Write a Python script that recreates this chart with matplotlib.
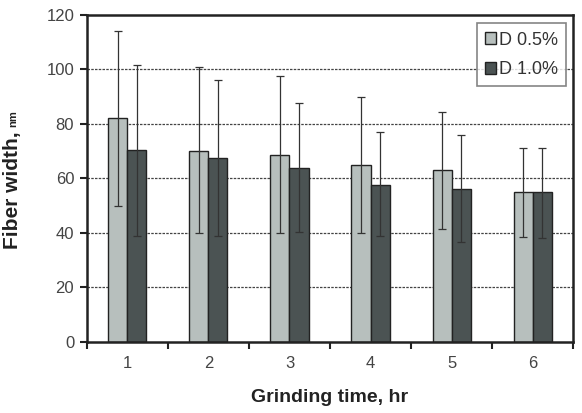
import matplotlib
matplotlib.use("Agg")
import matplotlib.pyplot as plt
import numpy as np

plt.rcParams['font.family'] = ['Liberation Sans', 'DejaVu Sans']

categories = ["1", "2", "3", "4", "5", "6"]
series_names = ["D 0.5%", "D 1.0%"]
d05 = [82, 70, 68.5, 65, 63, 55]
d10 = [70.5, 67.5, 64, 57.5, 56, 55]
d05_top = [114, 101, 97.5, 90, 84.5, 71]
d05_bot = [50, 40, 40, 40, 41.5, 38.5]
d10_top = [101.5, 96, 87.5, 77, 76, 71]
d10_bot = [39, 39, 40.5, 39, 36.5, 38]
yticks = [0, 20, 40, 60, 80, 100, 120]

fig = plt.figure(figsize=(5.82, 4.13), dpi=100)
ax = fig.add_axes([0.149, 0.172, 0.836, 0.792])

x = np.arange(1, len(categories) + 1)
w = 0.235
c_light = "#b7bfbd"
c_dark = "#4b5353"
ecol = "#333333"

for vals, top, bot, off, col, name in [
    (d05, d05_top, d05_bot, -w / 2, c_light, series_names[0]),
    (d10, d10_top, d10_bot, w / 2, c_dark, series_names[1]),
]:
    vals = np.array(vals)
    yerr = np.vstack([vals - np.array(bot), np.array(top) - vals])
    ax.bar(x + off, vals, width=w, color=col, edgecolor="#222222", linewidth=1.0,
           label=name, zorder=2)
    ax.errorbar(x + off, vals, yerr=yerr, fmt="none", ecolor=ecol, elinewidth=0.9,
                capsize=3, capthick=0.9, zorder=3)

ax.set_xlim(0.5, 6.5)
ax.set_ylim(0, 120)
ax.set_yticks(yticks)
ax.set_yticklabels([str(v) for v in yticks])
for yv in yticks[1:-1]:
    ax.axhline(yv, color="#444444", linestyle=(0, (2, 1)), linewidth=0.9, zorder=1)

ax.set_xticks(x)
ax.set_xticklabels(categories)
ax.set_xticks(np.arange(0.5, 7.0, 1.0), minor=True)
ax.tick_params(axis="x", which="major", length=0, pad=10, labelsize=12, labelcolor="#444444")
ax.tick_params(axis="x", which="minor", length=5, width=1.5, direction="out", color="#222222")
ax.tick_params(axis="y", length=5, width=1.5, direction="out", labelsize=12,
               labelcolor="#444444", color="#222222", pad=4)

for s in ax.spines.values():
    s.set_linewidth(1.8)
    s.set_color("#222222")

ax.set_xlabel("Grinding time, hr", fontsize=14, fontweight="bold", color="#222222", labelpad=13)

fig.text(0.022, 0.54, "Fiber width,", rotation=90, ha="center", va="center",
         fontsize=15, fontweight="bold", color="#222222")
fig.text(0.022, 0.714, "nm", rotation=90, ha="center", va="center",
         fontsize=8, fontweight="bold", color="#222222")

leg = ax.legend(loc="upper right", bbox_to_anchor=(0.993, 0.985), fontsize=13,
                frameon=True, fancybox=False, edgecolor="#666666",
                handlelength=0.6, handleheight=0.6, handletextpad=0.2,
                borderpad=0.45, labelspacing=0.7, borderaxespad=0.2)
leg.get_frame().set_linewidth(1.2)
for t in leg.get_texts():
    t.set_color("#333333")

fig.savefig("out.png", dpi=100)
